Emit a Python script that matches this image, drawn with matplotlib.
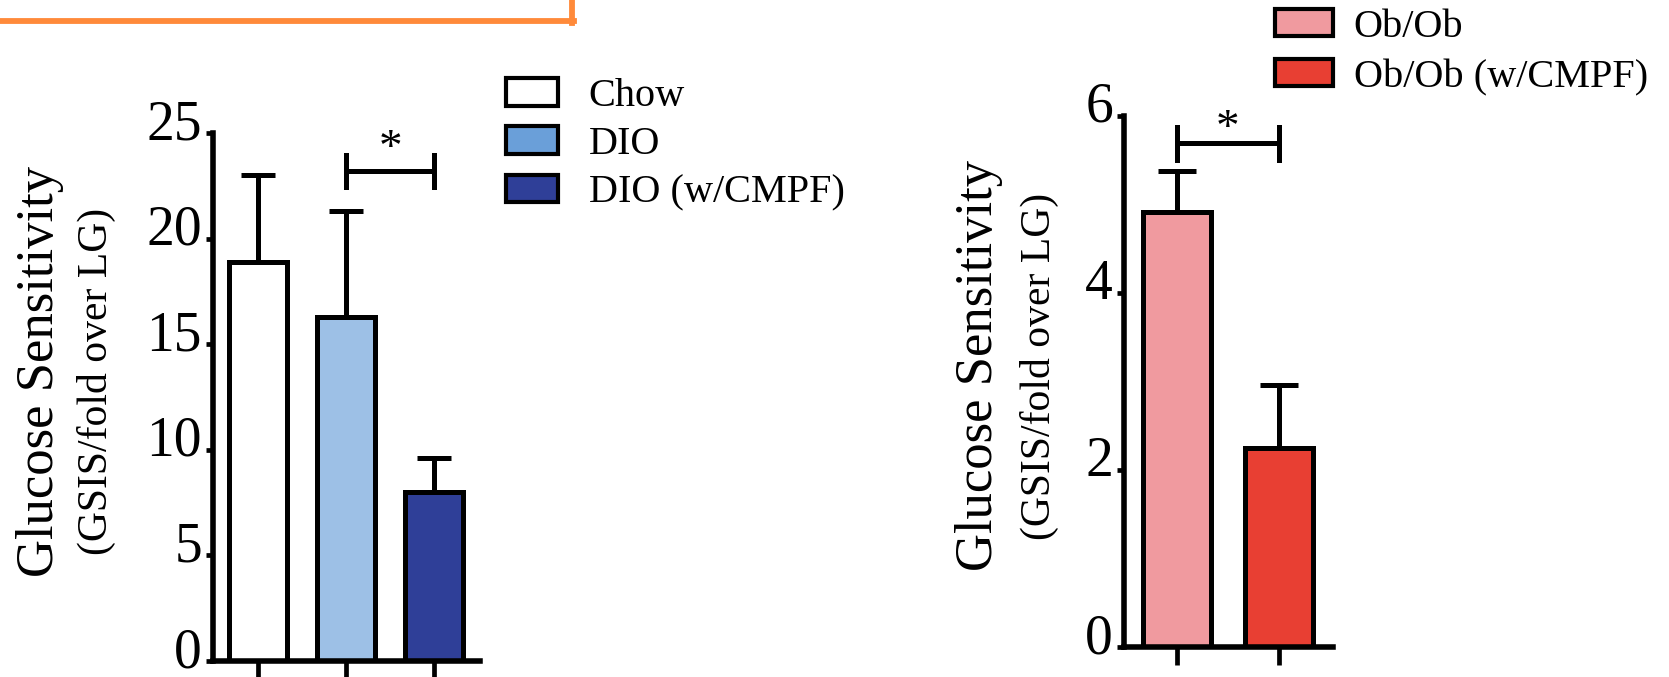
import numpy as np
import matplotlib.pyplot as plt
from matplotlib.patches import Patch
from matplotlib.lines import Line2D
from matplotlib.transforms import ScaledTranslation

plt.rcParams['font.family'] = ['Liberation Serif', 'DejaVu Serif']

# left panel: diet induced obesity
dio_groups = ['Chow', 'DIO', 'DIO (w/CMPF)']
dio_means = [18.9, 16.3, 8.0]
dio_err = [4.1, 5.0, 1.6]
dio_colors = ['#ffffff', '#9dc0e6', '#2f3f98']
dio_legend_colors = ['#ffffff', '#6a9fd9', '#2f3f98']
dio_ticks = [0, 5, 10, 15, 20, 25]
dio_sig_y = 23.2

# right panel: ob/ob mice
ob_groups = ['Ob/Ob', 'Ob/Ob (w/CMPF)']
ob_means = [4.92, 2.25]
ob_err = [0.46, 0.71]
ob_colors = ['#f09a9f', '#e83f33']
ob_ticks = [0, 2, 4, 6]
ob_sig_y = 5.69

W, H = 1669, 677
fig = plt.figure(figsize=(W / 100, H / 100), dpi=100)

LW = 3.6


def panel(rect, means, err, colors, ticks, xlim, capsize):
    ax = fig.add_axes(rect)
    x = np.arange(len(means))
    ax.bar(x, means, width=0.66, color=colors, edgecolor='black', linewidth=LW, zorder=2)
    ax.errorbar(x, means, yerr=[np.zeros(len(err)), err], fmt='none', ecolor='black',
                elinewidth=LW, capsize=capsize, capthick=LW, zorder=1)
    ax.set_xlim(*xlim)
    ax.set_ylim(0, ticks[-1])
    ax.set_yticks(ticks)
    ax.set_xticks(x)
    ax.set_xticklabels([])
    for s in ['top', 'right']:
        ax.spines[s].set_visible(False)
    for s in ['left', 'bottom']:
        ax.spines[s].set_linewidth(4)
    ax.tick_params(axis='y', labelsize=40, width=3.4, length=5, pad=3)
    ax.tick_params(axis='x', width=3.4, length=13)
    # labels sit a little above their ticks in the original
    shift = ScaledTranslation(0, 14 / 100, fig.dpi_scale_trans)
    for lab in ax.get_yticklabels():
        lab.set_transform(lab.get_transform() + shift)
    return ax


def sig(ax, x0, x1, y, h, star_y):
    ax.plot([x0, x1], [y, y], color='black', lw=LW, clip_on=False)
    ax.plot([x0, x0], [y - h, y + h], color='black', lw=LW, clip_on=False)
    ax.plot([x1, x1], [y - h, y + h], color='black', lw=LW, clip_on=False)
    ax.text((x0 + x1) / 2, star_y, '*', ha='center', va='center', fontsize=34, clip_on=False)


ax1 = panel([213 / W, 1 - 661 / H, 267 / W, 528 / H], dio_means, dio_err, dio_colors,
            dio_ticks, (-0.51, 2.52), 12)
sig(ax1, 1, 2, dio_sig_y, 0.75, 24.2)

ax2 = panel([1124 / W, 1 - 647 / H, 209 / W, 531 / H], ob_means, ob_err, ob_colors,
            ob_ticks, (-0.52, 1.53), 14)
sig(ax2, 0, 1, ob_sig_y, 0.19, 5.84)

# y labels
for xa, xb, ya, yb in [(40, 96, 371, 381), (979, 1039, 365, 366)]:
    fig.text(xa / W, 1 - ya / H, 'Glucose Sensitivity', rotation=90, fontsize=38,
             ha='center', va='center')
    fig.text(xb / W, 1 - yb / H, '(GSIS/fold over LG)', rotation=90, fontsize=30,
             ha='center', va='center')

# legends
h1 = [Patch(facecolor=c, edgecolor='black', linewidth=3) for c in dio_legend_colors]
fig.legend(h1, dio_groups, loc='upper left', bbox_to_anchor=(506 / W, 1 - 78 / H),
           frameon=False, fontsize=29, handlelength=1.3, handleheight=0.68,
           handletextpad=0.75, labelspacing=0.28, borderpad=0, borderaxespad=0)
h2 = [Patch(facecolor=c, edgecolor='black', linewidth=3) for c in ob_colors]
fig.legend(h2, ob_groups, loc='upper left', bbox_to_anchor=(1275 / W, 1 - 9 / H),
           frameon=False, fontsize=29, handlelength=1.45, handleheight=0.66,
           handletextpad=0.5, labelspacing=0.32, borderpad=0, borderaxespad=0)

# orange frame corner at top
orange = '#ff8a3a'
fig.add_artist(Line2D([0, 574 / W], [1 - 21 / H, 1 - 21 / H], color=orange, lw=4.2,
                      transform=fig.transFigure))
fig.add_artist(Line2D([572 / W, 572 / W], [1, 1 - 23 / H], color=orange, lw=4.2,
                      transform=fig.transFigure))

fig.savefig('out.png', dpi=100)
